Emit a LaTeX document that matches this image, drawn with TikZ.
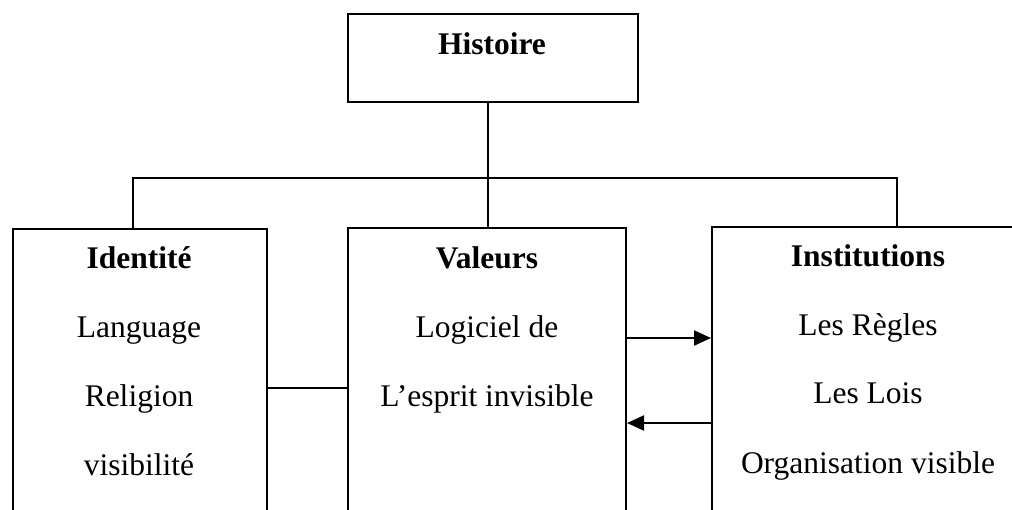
\documentclass[tikz,border=0pt]{standalone}
\usepackage{fontspec}
\setmainfont{Liberation Serif}
\usetikzlibrary{arrows.meta}
\begin{document}
\begin{tikzpicture}[x=1pt,y=-1pt,
  line width=2pt,
  box/.style={draw,rectangle,inner sep=0pt,anchor=north west},
  head/.style={anchor=base,font=\fontsize{31.5}{36}\selectfont\bfseries,inner sep=0pt},
  item/.style={anchor=base,font=\fontsize{31.5}{36}\selectfont,inner sep=0pt},
  link/.style={-{Triangle[length=17pt,width=15pt]}}]
\useasboundingbox (0,0) rectangle (1012,509);
\clip (0,0) rectangle (1012,509);

% top box
\node[box,minimum width=290pt,minimum height=88pt] (hist) at (347,13) {};
\node[head] (histT) at (492,54) {Histoire};

% three lower boxes, running past the bottom edge
\node[box,minimum width=254pt,minimum height=320pt] (ident) at (12,228) {};
\node[box,minimum width=278pt,minimum height=320pt] (val) at (347,227) {};
\node[box,minimum width=320pt,minimum height=320pt] (inst) at (711,226) {};

% tree connectors
\coordinate (bar) at (488,177.5);
\draw (hist.south -| bar) -- (bar);
\draw (ident.north -| 133,0) |- (bar);
\draw (bar) -| (inst.north -| 897,0);
\draw (bar) -- (val.north -| bar);

% Identité
\node[head] (idT) at (139,268) {Identité};
\node[item] (id1) at (139,337) {Language};
\node[item] (id2) at (139,406) {Religion};
\node[item] (id3) at (139,475) {visibilité};

% Valeurs
\node[head] (valT) at (487,268) {Valeurs};
\node[item] (val1) at (487,337) {Logiciel de};
\node[item] (val2) at (487,406) {L’esprit invisible};

% Institutions
\node[head] (instT) at (868,266) {Institutions};
\node[item] (inst1) at (868,335) {Les Règles};
\node[item] (inst2) at (868,403) {Les Lois};
\node[item] (inst3) at (868,473) {Organisation visible};

% links between boxes
\draw (ident.east |- 0,388) -- (val.west |- 0,388);
\draw[link] (val.east |- 0,338) -- (inst.west |- 0,338);
\draw[link] (inst.west |- 0,423) -- (val.east |- 0,423);
\end{tikzpicture}
\end{document}
